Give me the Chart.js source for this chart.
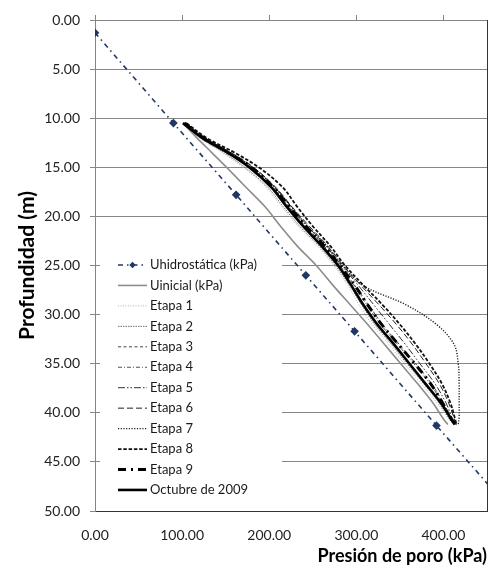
<!DOCTYPE html>
<html>
<head>
<meta charset="utf-8">
<script src="https://cdn.jsdelivr.net/npm/chart.js@4.4.1/dist/chart.umd.min.js"></script>
<style>
  html, body { margin: 0; padding: 0; background: #fff; }
  #wrap { width: 497px; height: 578px; }
</style>
</head>
<body>
<div id="wrap"><canvas id="presionChart" width="497" height="578"></canvas></div>
<script>
// DATOS (presión en kPa, profundidad en m)
const hidroPresion = [0, 90, 162, 242, 298, 392, 470];
const hidroProf = [1.3, 10.5, 17.8, 26.0, 31.7, 41.3, 49.2];

// Profundidades comunes para las curvas de etapas
const profundidades = [10.5, 12, 13.5, 15, 17, 19, 21, 23, 25, 27, 29, 31, 33, 35, 37, 39, 40.5, 41.2];

const presionInicial = [101, 117, 134, 151, 173, 195, 213, 232, 254, 273, 293, 313, 332, 351, 370, 388, 399, 405];
const presionEtapa1 = [101, 120, 146, 170, 196, 214, 233, 255, 274, 290, 303, 318, 337, 355, 374, 393, 405, 411];
const presionEtapa2 = [102, 121, 148, 172, 198, 216, 235, 257, 276, 292, 306, 321, 340, 358, 377, 395, 406, 412];
const presionEtapa3 = [103, 124, 153, 179, 204, 223, 242, 263, 281, 298, 314, 330, 349, 368, 386, 400, 409, 414];
const presionEtapa4 = [103, 124, 152, 178, 203, 222, 241, 262, 280, 297, 312, 328, 347, 366, 384, 399, 408, 414];
const presionEtapa5 = [104, 126, 155, 181, 206, 225, 244, 265, 283, 302, 320, 338, 356, 373, 390, 403, 410, 415];
const presionEtapa6 = [104, 126, 156, 182, 207, 226, 246, 267, 285, 305, 326, 346, 364, 380, 395, 406, 412, 415];
const presionEtapa7 = [104, 126, 155, 181, 206, 225, 244, 266, 284, 307, 357, 392, 412, 417, 418, 418, 418, 417];
const presionEtapa8 = [105, 128, 160, 188, 215, 232, 250, 270, 287, 308, 330, 350, 368, 384, 398, 408, 413, 415];
const presionEtapa9 = [103, 124, 153, 179, 204, 223, 242, 263, 281, 298, 313, 329, 348, 367, 385, 399, 408, 414];
const presionOctubre = [101, 123, 152, 177, 202, 220, 239, 260, 279, 294, 308, 324, 343, 361, 379, 397, 408, 413];

// Marcas de los ejes
const ticksPresion = [0, 100, 200, 300, 400];
const ticksProf = [0, 5, 10, 15, 20, 25, 30, 35, 40, 45, 50];

const fuente = "Lato, 'Open Sans', sans-serif";

function puntos(xs, ys) {
    return xs.map((x, i) => ({ x: x, y: ys[i] }));
}

// Estilo de cada serie (línea tipo Excel)
function serie(label, presiones, color, ancho, dash, orden) {
    return {
        label: label,
        data: puntos(presiones, profundidades),
        showLine: true,
        borderColor: color,
        backgroundColor: color,
        borderWidth: ancho,
        borderDash: dash,
        pointRadius: 0,
        tension: 0.35,
        order: orden
    };
}

const datasets = [
    {
        label: 'Uhidrostática (kPa)',
        data: puntos(hidroPresion, hidroProf),
        showLine: true,
        borderColor: '#1F3864',
        backgroundColor: '#1F3864',
        borderWidth: 1.6,
        borderDash: [5, 4, 1.5, 4],
        pointStyle: 'rectRot',
        pointRadius: [3.2, 3.2, 3.2, 3.2, 3.2, 3.2, 0],
        tension: 0,
        order: 12
    },
    serie('Uinicial (kPa)', presionInicial, '#8C8C8C', 1.6, [], 11),
    serie('Etapa 1', presionEtapa1, '#B0B0B0', 1, [1, 1.5], 10),
    serie('Etapa 2', presionEtapa2, '#707070', 1, [1.5, 1], 9),
    serie('Etapa 3', presionEtapa3, '#404040', 1, [3, 2.5], 8),
    serie('Etapa 4', presionEtapa4, '#505050', 1, [4, 2, 1, 2], 7),
    serie('Etapa 5', presionEtapa5, '#303030', 1, [7, 2, 1.5, 2, 1.5, 2], 6),
    serie('Etapa 6', presionEtapa6, '#202020', 1, [6, 3], 5),
    serie('Etapa 7', presionEtapa7, '#202020', 1.4, [1.2, 1.5], 4),
    serie('Etapa 8', presionEtapa8, '#111111', 1.8, [3.5, 1.8], 3),
    serie('Etapa 9', presionEtapa9, '#000000', 3, [8, 5, 2, 5], 2),
    serie('Octubre de 2009', presionOctubre, '#000000', 2.6, [], 1)
];

// Leyenda dibujada dentro del área del gráfico, con fondo blanco
const leyendaInterna = {
    id: 'leyendaInterna',
    afterDatasetsDraw(chart) {
        const c = chart.ctx;
        c.save();
        c.fillStyle = '#ffffff';
        c.fillRect(100, 251, 182, 252);
        c.font = '13px ' + fuente;
        c.textBaseline = 'middle';
        c.textAlign = 'left';
        datasets.forEach((ds, i) => {
            const y = 265 + i * 20.45;
            c.strokeStyle = ds.borderColor;
            c.lineWidth = ds.borderWidth;
            c.setLineDash(ds.borderDash || []);
            c.beginPath();
            c.moveTo(118, y);
            c.lineTo(147, y);
            c.stroke();
            if (ds.pointStyle === 'rectRot') {
                c.setLineDash([]);
                c.fillStyle = ds.borderColor;
                c.beginPath();
                c.moveTo(132.5, y - 3.2);
                c.lineTo(135.7, y);
                c.lineTo(132.5, y + 3.2);
                c.lineTo(129.3, y);
                c.closePath();
                c.fill();
            }
            c.setLineDash([]);
            c.fillStyle = '#1a1a1a';
            c.fillText(ds.label, 150, y);
        });
        c.restore();
    }
};

// Borde derecho y marcas superiores del eje de presión
const marcoExcel = {
    id: 'marcoExcel',
    afterDraw(chart) {
        const c = chart.ctx;
        const a = chart.chartArea;
        const xs = chart.scales.x;
        c.save();
        c.strokeStyle = '#868686';
        c.lineWidth = 1;
        ticksPresion.forEach(v => {
            const px = Math.round(xs.getPixelForValue(v)) + 0.5;
            c.beginPath();
            c.moveTo(px, a.top - 5);
            c.lineTo(px, a.top);
            c.stroke();
        });
        c.strokeStyle = '#333333';
        c.beginPath();
        c.moveTo(Math.round(a.right) + 0.5, a.top);
        c.lineTo(Math.round(a.right) + 0.5, a.bottom);
        c.stroke();
        c.restore();
    }
};

const ctx = document.getElementById('presionChart').getContext('2d');
const presionChart = new Chart(ctx, {
    type: 'scatter',
    data: { datasets: datasets },
    options: {
        responsive: false,
        animation: false,
        devicePixelRatio: 1,
        layout: { padding: { top: 20, right: 10, left: 0, bottom: 0 } },
        plugins: {
            legend: { display: false },
            tooltip: { enabled: false }
        },
        scales: {
            x: {
                type: 'linear',
                min: 0,
                max: 450,
                afterBuildTicks: scale => {
                    scale.ticks = ticksPresion.map(v => ({ value: v }));
                },
                afterFit: scale => { scale.height = 67; },
                ticks: {
                    padding: 16,
                    color: '#222',
                    font: { family: fuente, size: 14 },
                    callback: v => v.toFixed(2)
                },
                grid: { drawOnChartArea: false, drawTicks: false },
                border: { color: '#333333', width: 1 },
                title: {
                    display: true,
                    text: 'Presión de poro (kPa)',
                    align: 'end',
                    color: '#000',
                    font: { family: fuente, size: 18, weight: 'bold' },
                    padding: { top: 0, bottom: 11 }
                }
            },
            y: {
                type: 'linear',
                reverse: true,
                min: 0,
                max: 50,
                afterBuildTicks: scale => {
                    scale.ticks = ticksProf.map(v => ({ value: v }));
                },
                afterFit: scale => { scale.width = 95; },
                ticks: {
                    padding: 10,
                    color: '#222',
                    font: { family: fuente, size: 14 },
                    callback: v => v.toFixed(2)
                },
                grid: { color: '#868686', lineWidth: 1, tickLength: 5 },
                border: { color: '#868686', width: 1 },
                title: {
                    display: true,
                    text: 'Profundidad (m)',
                    color: '#000',
                    font: { family: fuente, size: 21, weight: 'bold' },
                    padding: { top: 15, bottom: 0 }
                }
            }
        }
    },
    plugins: [leyendaInterna, marcoExcel]
});
</script>
</body>
</html>
